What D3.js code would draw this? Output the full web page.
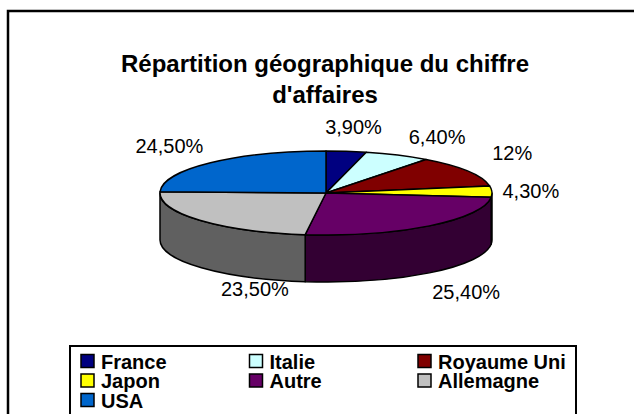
<!DOCTYPE html>
<html>
<head>
<meta charset="utf-8">
<script src="https://cdn.jsdelivr.net/npm/d3@7"></script>
<style>
  html, body { margin: 0; padding: 0; background: #fff; }
  text { font-family: "Liberation Sans", Arial, sans-serif; }
</style>
</head>
<body>
<div id="chart"></div>
<script>
// data
var categories = ["France", "Italie", "Royaume Uni", "Japon", "Autre", "Allemagne", "USA"];
var values = [3.9, 6.4, 12, 4.3, 25.4, 23.5, 24.5];
var valueLabels = ["3,90%", "6,40%", "12%", "4,30%", "25,40%", "23,50%", "24,50%"];
var colors = ["#000080", "#CCFFFF", "#800000", "#FFFF00", "#660066", "#C0C0C0", "#0066CC"];
var titleLines = ["Répartition géographique du chiffre", "d'affaires"];

var width = 634, height = 414;

// pie geometry (top face ellipse + thickness)
var cx = 326, cy = 193, rx = 166, ry = 42, depth = 47;

// label layout: radius for label centres, small manual nudges (Excel moved some)
var labelRx = 225, labelRy = 66;
var labelNudge = { "Italie": [14, 4], "Royaume Uni": [-6, -6], "Japon": [-20, 0], "Allemagne": [100, 6] };

var svg = d3.select("#chart").append("svg")
    .attr("width", width)
    .attr("height", height);

// chart area border (runs off the right/bottom edge)
svg.append("rect")
    .attr("x", 8).attr("y", 11)
    .attr("width", 640).attr("height", 420)
    .style("fill", "none")
    .style("stroke", "#000")
    .style("stroke-width", 2.5);

// title
svg.append("g").selectAll("text")
    .data(titleLines)
    .enter()
    .append("text")
    .attr("x", 325)
    .attr("y", function (d, i) { return 72 + i * 30.5; })
    .attr("text-anchor", "middle")
    .style("font-size", "24px")
    .style("font-weight", "bold")
    .text(function (d) { return d; });

var arcs = d3.pie().sort(null).value(function (d) { return d; })(values);

function pt(a, dy) {
    return [cx + rx * Math.sin(a), cy - ry * Math.cos(a) + (dy || 0)];
}

function halfTone(c) {
    var rgb = d3.rgb(c);
    return d3.rgb(rgb.r * 0.5, rgb.g * 0.5, rgb.b * 0.5).formatHex();
}

// outer walls, only the front half (angles between 90 and 270 deg) is visible
var walls = svg.append("g");
arcs.forEach(function (d, i) {
    var lo = Math.max(d.startAngle, Math.PI / 2);
    var hi = Math.min(d.endAngle, 3 * Math.PI / 2);
    if (lo >= hi) return;
    var p0 = pt(lo), p1 = pt(hi), p2 = pt(hi, depth), p3 = pt(lo, depth);
    var path = "M" + p0 + " A" + rx + "," + ry + " 0 0 1 " + p1 +
        " L" + p2 + " A" + rx + "," + ry + " 0 0 0 " + p3 + " Z";
    walls.append("path")
        .attr("d", path)
        .style("fill", halfTone(colors[i]))
        .style("stroke", "#000")
        .style("stroke-width", 1.5)
        .style("stroke-linejoin", "round");
});

// top face slices
svg.append("g").selectAll("path")
    .data(arcs)
    .enter()
    .append("path")
    .attr("d", function (d) {
        var p0 = pt(d.startAngle), p1 = pt(d.endAngle);
        var large = (d.endAngle - d.startAngle) > Math.PI ? 1 : 0;
        return "M" + cx + "," + cy + " L" + p0 + " A" + rx + "," + ry + " 0 " + large + " 1 " + p1 + " Z";
    })
    .style("fill", function (d, i) { return colors[i]; })
    .style("stroke", "#000")
    .style("stroke-width", 1.5)
    .style("stroke-linejoin", "round");

// data labels
svg.append("g").selectAll("text")
    .data(arcs)
    .enter()
    .append("text")
    .attr("x", function (d, i) {
        var mid = (d.startAngle + d.endAngle) / 2;
        var n = labelNudge[categories[i]] || [0, 0];
        return cx + labelRx * Math.sin(mid) + n[0];
    })
    .attr("y", function (d, i) {
        var mid = (d.startAngle + d.endAngle) / 2;
        var n = labelNudge[categories[i]] || [0, 0];
        var c = Math.cos(mid);
        return cy - labelRy * c + (c < 0 ? depth : 0) + 7 + n[1];
    })
    .attr("text-anchor", "middle")
    .style("font-size", "20px")
    .text(function (d, i) { return valueLabels[i]; });

// legend
var legend = svg.append("g");
legend.append("rect")
    .attr("x", 70).attr("y", 346)
    .attr("width", 506).attr("height", 90)
    .style("fill", "#fff")
    .style("stroke", "#000")
    .style("stroke-width", 2);

var items = legend.selectAll("g.item")
    .data(categories)
    .enter()
    .append("g")
    .attr("class", "item")
    .attr("transform", function (d, i) {
        return "translate(" + (81 + (i % 3) * 168.5) + "," + (361 + Math.floor(i / 3) * 19.5) + ")";
    });

items.append("rect")
    .attr("x", 0).attr("y", -6.5)
    .attr("width", 13).attr("height", 13)
    .style("fill", function (d, i) { return colors[i]; })
    .style("stroke", "#000")
    .style("stroke-width", 1.5);

items.append("text")
    .attr("x", 20).attr("y", 7.5)
    .style("font-size", "20px")
    .style("font-weight", "bold")
    .text(function (d) { return d; });
</script>
</body>
</html>
